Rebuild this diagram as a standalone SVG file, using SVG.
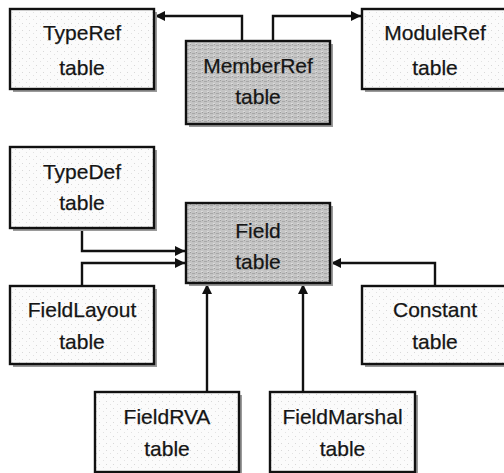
<svg xmlns="http://www.w3.org/2000/svg" width="504" height="473" viewBox="0 0 504 473">
<style>
.box{stroke:#111;stroke-width:2.4}
.light{fill:url(#lightTex)}
.dark{fill:url(#darkTex)}
.shadow{fill:#9a9a9a}
.lbl{font-family:"Liberation Sans",Arial,Helvetica,sans-serif;font-size:21px;fill:#151515;stroke:#151515;stroke-width:0.25;text-anchor:middle}
.conn{fill:none;stroke:#111;stroke-width:2.4}
</style>
<defs>
<pattern id="lightTex" width="7" height="7" patternUnits="userSpaceOnUse">
<rect width="7" height="7" fill="#fbfbfb"/>
<rect x="1" y="2" width="1" height="1" fill="#d8d8d8"/>
<rect x="5" y="5" width="1" height="1" fill="#e2e2e2"/>
</pattern>
<pattern id="darkTex" width="6" height="4" patternUnits="userSpaceOnUse">
<rect width="6" height="4" fill="#c4c4c4"/>
<rect x="0" y="1" width="3" height="1" fill="#a8a8a8"/>
<rect x="3" y="3" width="2" height="1" fill="#dadada"/>
<rect x="4" y="0" width="1" height="1" fill="#9c9c9c"/>
</pattern>
<marker id="ah" viewBox="0 0 10 10" refX="10" refY="5" markerWidth="10" markerHeight="10" markerUnits="userSpaceOnUse" orient="auto">
<path d="M0,0 L10,5 L0,10 z" fill="#111"/>
</marker>
</defs>
<rect width="504" height="473" fill="#ffffff"/>

<g id="connectors">
<path class="conn" d="M242,41 V16 H155" marker-end="url(#ah)"/>
<path class="conn" d="M273,41 V16 H361" marker-end="url(#ah)"/>
<path class="conn" d="M82,228 V251 H185" marker-end="url(#ah)"/>
<path class="conn" d="M82,286 V263 H185" marker-end="url(#ah)"/>
<path class="conn" d="M435,286 V263 H331" marker-end="url(#ah)"/>
<path class="conn" d="M207,392 V284" marker-end="url(#ah)"/>
<path class="conn" d="M303,392 V284" marker-end="url(#ah)"/>
</g>

<g id="typeref">
<rect class="shadow" x="13" y="12" width="144" height="80"/>
<rect class="box light" x="10" y="9" width="144" height="80"/>
<text class="lbl" x="82" y="40">TypeRef</text>
<text class="lbl" x="82" y="75">table</text>
</g>

<g id="memberref">
<rect class="shadow" x="189" y="44" width="144" height="83"/>
<rect class="box dark" x="186" y="41" width="144" height="83"/>
<text class="lbl" x="258" y="73">MemberRef</text>
<text class="lbl" x="258" y="104">table</text>
</g>

<g id="moduleref">
<rect class="shadow" x="365" y="12" width="150" height="80"/>
<rect class="box light" x="362" y="9" width="150" height="80"/>
<text class="lbl" x="435" y="40">ModuleRef</text>
<text class="lbl" x="435" y="75">table</text>
</g>

<g id="typedef">
<rect class="shadow" x="13" y="150" width="144" height="81"/>
<rect class="box light" x="10" y="147" width="144" height="81"/>
<text class="lbl" x="82" y="179">TypeDef</text>
<text class="lbl" x="82" y="210">table</text>
</g>

<g id="field">
<rect class="shadow" x="189" y="206" width="144" height="80"/>
<rect class="box dark" x="186" y="203" width="144" height="80"/>
<text class="lbl" x="258" y="238">Field</text>
<text class="lbl" x="258" y="269">table</text>
</g>

<g id="fieldlayout">
<rect class="shadow" x="13" y="289" width="144" height="78"/>
<rect class="box light" x="10" y="286" width="144" height="78"/>
<text class="lbl" x="82" y="317">FieldLayout</text>
<text class="lbl" x="82" y="349">table</text>
</g>

<g id="constant">
<rect class="shadow" x="365" y="289" width="150" height="78"/>
<rect class="box light" x="362" y="286" width="150" height="78"/>
<text class="lbl" x="435" y="317">Constant</text>
<text class="lbl" x="435" y="349">table</text>
</g>

<g id="fieldrva">
<rect class="shadow" x="98" y="395" width="144" height="80"/>
<rect class="box light" x="95" y="392" width="144" height="80"/>
<text class="lbl" x="167" y="424">FieldRVA</text>
<text class="lbl" x="167" y="456">table</text>
</g>

<g id="fieldmarshal">
<rect class="shadow" x="273" y="395" width="145" height="80"/>
<rect class="box light" x="270" y="392" width="145" height="80"/>
<text class="lbl" x="342.5" y="424">FieldMarshal</text>
<text class="lbl" x="342.5" y="456">table</text>
</g>
</svg>
